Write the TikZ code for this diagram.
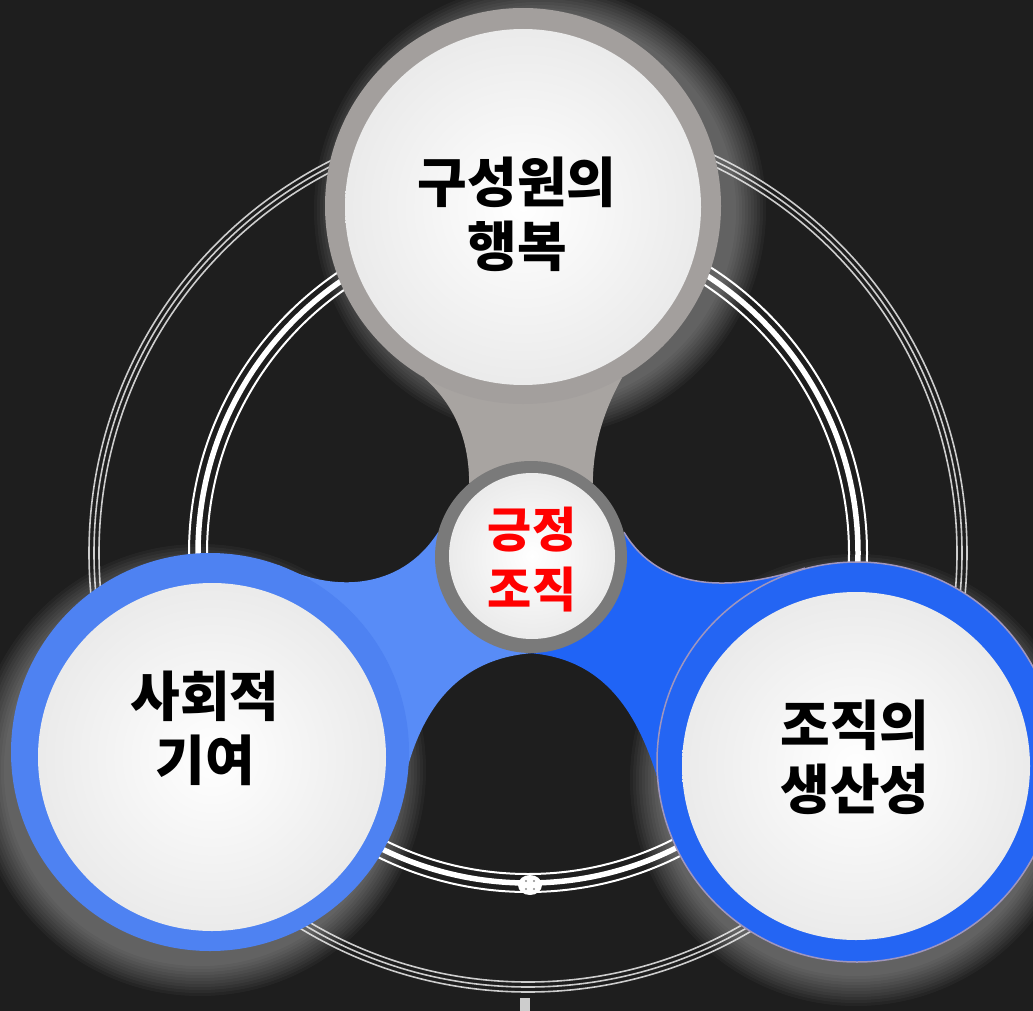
\documentclass[tikz,border=0pt]{standalone}
\usepackage{fontspec}
\newfontfamily\kr{Noto Sans CJK KR}
\usepackage{tikz}

\definecolor{bg}{RGB}{30,30,30}
\definecolor{ringgray}{RGB}{205,205,205}
\definecolor{topgray}{RGB}{163,159,157}
\definecolor{stemgray}{RGB}{168,164,161}
\definecolor{hubgray}{RGB}{122,122,122}
\definecolor{leftblue}{RGB}{78,130,242}
\definecolor{leftband}{RGB}{88,140,247}
\definecolor{rightblue}{RGB}{36,101,243}
\definecolor{rightband}{RGB}{32,100,246}
\definecolor{bluerim}{RGB}{160,150,190}
\definecolor{wordred}{RGB}{255,0,0}

\pgfdeclarelayer{back}
\pgfsetlayers{back,main}

\begin{document}
\begin{tikzpicture}[x=1pt,y=-1pt,
    ring/.style={circle,inner sep=0pt},
    disc/.style={circle,inner sep=0pt,inner color=white,outer color=black!8},
    word/.style={font=\kr\bfseries\fontsize{54}{64}\selectfont,text=black,align=center},
    glow/.style={white,opacity=0.035}]

  \useasboundingbox (0,0) rectangle (1033,1011);

  % the three circles and the hub
  \node[ring, fill=topgray, minimum size=396pt] (topring) at (523,206) {};
  \node[ring, fill=leftblue, minimum size=398pt] (leftring) at (210,752) {};
  \node[ring, fill=rightblue, draw=bluerim, line width=1.5pt, minimum size=400pt] (rightring) at (857,762) {};
  \node[disc, minimum size=356pt] (topdisc) at (523,207) {};
  \node[disc, minimum size=348pt] (leftdisc) at (212,757) {};
  \node[disc, minimum size=348pt] (rightdisc) at (856,766) {};
  \node[ring, fill=hubgray, minimum size=192pt] (hub) at (531,557) {};
  \node[disc, minimum size=166pt] (hubdisc) at (532,556) {};

  \node[word] (toptext) at (517,214) {구성원의\\행복};
  \node[word] (lefttext) at (205,728) {사회적\\기여};
  \node[word] (righttext) at (855,757) {조직의\\생산성};
  \node[word, text=wordred, font=\kr\bfseries\fontsize{48}{60}\selectfont] (hubtext) at (532,560) {긍정\\조직};

  \begin{pgfonlayer}{back}
    \fill[bg] (0,0) rectangle (1033,1011);

    % rings behind
    \coordinate (ctr) at (528,553);
    \foreach \r in {429,434,439}
      \draw[ringgray, line width=1.6pt] (ctr) circle[radius=\r];
    \draw[white, line width=2pt] (ctr) circle[radius=321];
    \draw[white, line width=5.5pt] (ctr) circle[radius=330];
    \draw[white, line width=2pt] (ctr) circle[radius=339];
    \fill[white] (530,885) ellipse[x radius=12, y radius=10];
    \foreach \dx/\dy in {-4/-4,4/-4,-4/4,4/4}
      \fill[black!45] (530+\dx,885+\dy) circle[radius=1.2];
    \fill[ringgray] (520,998) rectangle (530,1011);

    % glow
    \foreach \g in {1,...,11} {
      \fill[glow] (540,210) circle[radius=193+3*\g];
      \fill[glow] (200,770) circle[radius=193+3*\g];
      \fill[glow] (856,780) circle[radius=193+3*\g];
    }

    % connectors
    \fill[stemgray] (topring.240) .. controls (455,405) and (469,440) .. (hub.130)
      -- (hub.50) .. controls (593,440) and (607,405) .. (topring.300) -- cycle;
    \fill[leftband] (leftring.70) .. controls (330,592) and (400,592) .. (hub.165)
      -- (hub.270) .. controls (450,660) and (410,720) .. (leftring.-20) -- cycle;
    \fill[rightband] (hub.15) .. controls (660,592) and (730,592) .. (rightring.105)
      -- (rightring.203) .. controls (650,720) and (610,660) .. (hub.270) -- cycle;
    \draw[bluerim, line width=1.5pt] (hub.15) .. controls (660,592) and (730,592) .. (rightring.105);
  \end{pgfonlayer}
\end{tikzpicture}
\end{document}
